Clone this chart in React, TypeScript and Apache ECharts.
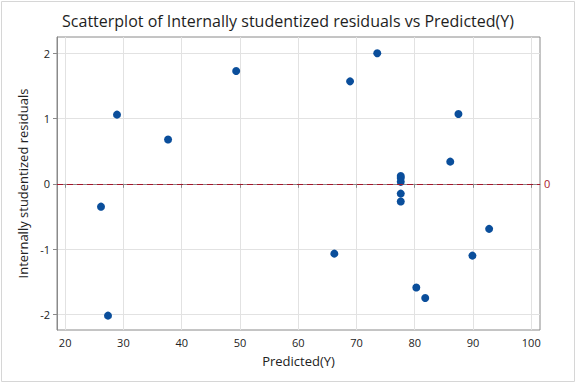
import React, { useEffect, useRef } from "react";
import * as echarts from "echarts";

const predicted = [26.15, 27.35, 28.9, 37.66, 49.35, 66.2, 68.9, 73.57, 77.6, 77.6, 77.6, 77.6, 77.6, 80.27, 81.8, 86.1, 87.5, 89.9, 92.77];
const residuals = [-0.35, -2.02, 1.06, 0.68, 1.73, -1.07, 1.57, 2.0, 0.12, 0.09, 0.03, -0.15, -0.27, -1.59, -1.75, 0.34, 1.07, -1.1, -0.69];
const xTicks = [20, 30, 40, 50, 60, 70, 80, 90, 100];
const yTicks = [-2, -1, 0, 1, 2];
const referenceValue = 0;

const FONT = "'Open Sans', 'Noto Sans', sans-serif";

export default function App() {
  const ref = useRef<HTMLDivElement>(null);
  useEffect(() => {
    if (!ref.current) return;
    const chart = echarts.init(ref.current, null, { renderer: "svg" });
    const points = predicted.map((p, i) => [p, residuals[i]]);
    chart.setOption({
      animation: false,
      backgroundColor: "#ffffff",
      textStyle: { fontFamily: FONT },
      title: {
        text: "Scatterplot of Internally studentized residuals vs Predicted(Y)",
        left: "center",
        top: 8,
        textStyle: { fontFamily: FONT, fontSize: 16, fontWeight: "normal", color: "#1e1e1e" },
      },
      graphic: [
        {
          type: "rect",
          shape: { x: 1.5, y: 1.5, width: 573, height: 380 },
          style: { fill: "none", stroke: "#d6d6d6", lineWidth: 1 },
          silent: true,
        },
      ],
      grid: {
        left: 57,
        right: 36,
        top: 37,
        bottom: 54,
        show: true,
        borderColor: "#8a8a8a",
        borderWidth: 1,
        backgroundColor: "#ffffff",
      },
      xAxis: {
        type: "value",
        min: 18.6,
        max: 101.5,
        splitNumber: 8,
        name: "Predicted(Y)",
        nameLocation: "middle",
        nameGap: 24,
        nameTextStyle: { fontFamily: FONT, fontSize: 13, color: "#222222" },
        axisLine: { show: true, lineStyle: { color: "#8a8a8a" } },
        axisTick: { show: true, length: 4, lineStyle: { color: "#8a8a8a" }, customValues: xTicks },
        axisLabel: {
          fontFamily: FONT,
          fontSize: 11,
          color: "#222222",
          margin: 7,
          customValues: xTicks,
          formatter: (v: number) => (xTicks.includes(v) ? String(v) : ""),
        },
        splitLine: { show: true, lineStyle: { color: "#e2e2e2" } },
      },
      yAxis: {
        type: "value",
        min: -2.24,
        max: 2.25,
        splitNumber: 5,
        name: "Internally studentized residuals",
        nameLocation: "middle",
        nameGap: 23,
        nameTextStyle: { fontFamily: FONT, fontSize: 13, color: "#222222" },
        axisLine: { show: true, lineStyle: { color: "#8a8a8a" } },
        axisTick: { show: true, length: 4, lineStyle: { color: "#8a8a8a" }, customValues: yTicks },
        axisLabel: {
          fontFamily: FONT,
          fontSize: 11,
          color: "#222222",
          margin: 7,
          customValues: yTicks,
          formatter: (v: number) => (yTicks.includes(v) ? String(v) : ""),
        },
        splitLine: { show: true, lineStyle: { color: "#e2e2e2" } },
      },
      series: [
        {
          type: "scatter",
          data: points,
          symbol: "circle",
          symbolSize: 8,
          itemStyle: { color: "#0a4e9b", opacity: 1 },
          markLine: {
            silent: true,
            symbol: ["none", "none"],
            lineStyle: { color: "#a8152b", type: [6, 4], width: 1 },
            label: {
              show: true,
              position: "end",
              distance: 4,
              formatter: String(referenceValue),
              color: "#a8152b",
              fontFamily: FONT,
              fontSize: 11,
            },
            data: [{ yAxis: referenceValue }],
          },
        },
      ],
    });
    return () => chart.dispose();
  }, []);
  return (
    <div
      ref={ref}
      style={{ position: "absolute", left: 0, top: 0, width: 576, height: 384 }}
    />
  );
}
